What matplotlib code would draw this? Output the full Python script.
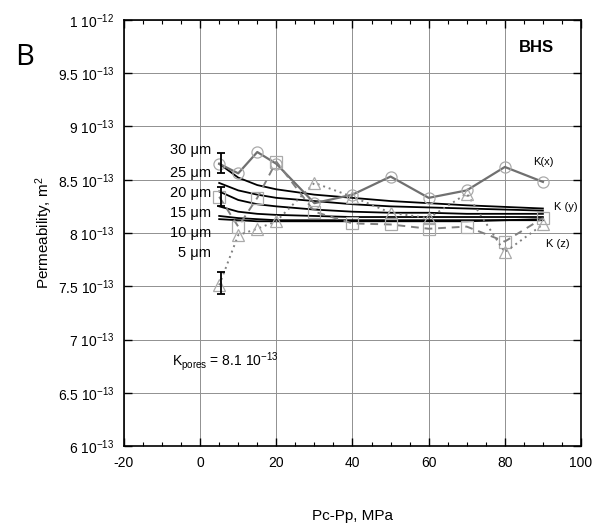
import matplotlib
matplotlib.use('Agg')
import matplotlib.pyplot as plt
from matplotlib.ticker import FixedLocator, MultipleLocator

plt.rcParams['font.family'] = ['Liberation Sans', 'DejaVu Sans']
plt.rcParams['mathtext.fontset'] = 'custom'
plt.rcParams['mathtext.rm'] = 'Liberation Sans'
plt.rcParams['mathtext.it'] = 'Liberation Sans:italic'
plt.rcParams['axes.unicode_minus'] = False

# measured permeability (units of 1e-13 m^2)
p_meas = [5, 10, 15, 20, 30, 40, 50, 60, 70, 80, 90]
k_x = [8.65, 8.56, 8.76, 8.65, 8.28, 8.36, 8.53, 8.33, 8.40, 8.62, 8.48]
k_z = [8.34, 8.06, 8.33, 8.67, 8.20, 8.09, 8.08, 8.04, 8.06, 7.92, 8.14]
k_y = [7.51, 7.98, 8.04, 8.11, 8.47, 8.34, 8.19, 8.14, 8.37, 7.82, 8.08]

# error bars at first pressure step
err_p = [5.5, 5.5, 5.5]
err_k = [8.655, 8.34, 7.53]
err_d = [0.095, 0.09, 0.10]

# model curves for crack apertures
p_model = [5, 10, 15, 20, 30, 40, 50, 60, 70, 80, 90]
model = {
    '30': [8.65, 8.52, 8.45, 8.41, 8.36, 8.33, 8.30, 8.28, 8.26, 8.245, 8.23],
    '25': [8.47, 8.40, 8.36, 8.33, 8.30, 8.27, 8.25, 8.24, 8.23, 8.22, 8.21],
    '20': [8.39, 8.31, 8.27, 8.25, 8.22, 8.20, 8.19, 8.19, 8.18, 8.18, 8.18],
    '15': [8.25, 8.20, 8.18, 8.17, 8.16, 8.15, 8.15, 8.15, 8.15, 8.15, 8.15],
    '10': [8.16, 8.14, 8.13, 8.12, 8.12, 8.12, 8.12, 8.12, 8.12, 8.12, 8.13],
    '5': [8.13, 8.12, 8.11, 8.11, 8.11, 8.11, 8.11, 8.11, 8.11, 8.12, 8.12],
}
label_y = [8.78, 8.56, 8.375, 8.19, 8.0, 7.81]

y_ticks = [6.0, 6.5, 7.0, 7.5, 8.0, 8.5, 9.0, 9.5, 10.0]
y_labels = ['6 10$^{-13}$', '6.5 10$^{-13}$', '7 10$^{-13}$', '7.5 10$^{-13}$',
            '8 10$^{-13}$', '8.5 10$^{-13}$', '9 10$^{-13}$', '9.5 10$^{-13}$',
            '1 10$^{-12}$']

fig = plt.figure(figsize=(6.03, 5.23), dpi=100)
ax = fig.add_axes([0.2056, 0.1472, 0.7579, 0.8146])

ax.grid(True, color='#909090', lw=0.7)
ax.set_axisbelow(True)

for key, ly in zip(model, label_y):
    ax.plot(p_model, model[key], color='black', lw=1.3, zorder=3)
    ax.text(2.8, ly, key + ' \u03bcm', ha='right', va='center', fontsize=10.5)

mk = dict(markersize=8, markerfacecolor='none', markeredgecolor='#aaaaaa', markeredgewidth=0.9)
ax.plot(p_meas, k_x, '-', color='#707070', lw=1.6, marker='o', zorder=4, **mk)
ax.plot(p_meas, k_z, color='#808080', lw=1.4, ls=(0, (4, 3)), marker='s', zorder=4, **mk)
ax.plot(p_meas, k_y, color='#808080', lw=1.4, ls=(0, (1, 2)), marker='^', zorder=4, **mk)

ax.errorbar(err_p, err_k, yerr=err_d, fmt='none', ecolor='black', elinewidth=1.3,
            capsize=3, capthick=1.3, zorder=5)

ax.text(88.3, 9.74, 'BHS', fontsize=12, fontweight='bold', ha='center', va='center')
ax.text(90, 8.67, 'K(x)', fontsize=8, ha='center', va='center')
ax.text(96, 8.24, 'K (y)', fontsize=8, ha='center', va='center')
ax.text(94, 7.90, 'K (z)', fontsize=8, ha='center', va='center')
ax.text(-7.5, 6.79, r'K$_{\mathrm{pores}}$ = 8.1 10$^{-13}$', fontsize=10, va='center')

ax.set_xlim(-20, 100)
ax.set_ylim(6.0, 10.0)
ax.xaxis.set_major_locator(MultipleLocator(20))
ax.xaxis.set_minor_locator(MultipleLocator(5))
ax.yaxis.set_major_locator(FixedLocator(y_ticks))
ax.set_yticklabels(y_labels)
ax.tick_params(which='both', direction='in', top=True, right=True, labelsize=10)
ax.tick_params(which='major', length=6, width=1, pad=7)
ax.tick_params(which='minor', length=3, width=0.8)
for s in ax.spines.values():
    s.set_linewidth(1.2)

ax.set_xlabel('Pc-Pp, MPa', fontsize=11, labelpad=28)
ax.set_ylabel('Permeability, m$^2$', fontsize=11, labelpad=2)

fig.text(0.025, 0.89, 'B', fontsize=21, family='Open Sans', va='center')

fig.savefig('out.png', dpi=100)
